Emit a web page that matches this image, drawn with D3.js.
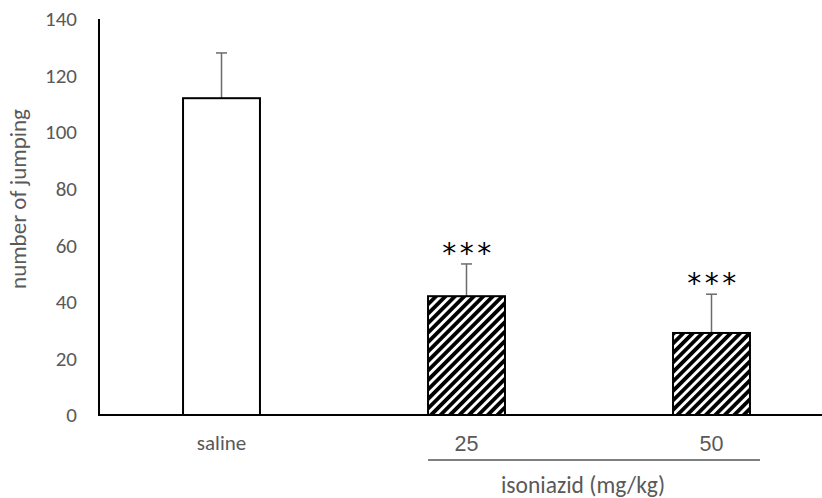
<!DOCTYPE html>
<html>
<head>
<meta charset="utf-8">
<script src="https://cdn.jsdelivr.net/npm/d3@7"></script>
<style>
  body { margin: 0; background: #fff; }
  svg { display: block; }
</style>
</head>
<body>
<svg width="822" height="498"></svg>
<script>
// data
var categories = ["saline", "25", "50"];
var means = [112, 42, 29];
var errors = [16, 11.4, 13.7];
var stars = ["", "***", "***"];
var yTicks = [0, 20, 40, 60, 80, 100, 120, 140];

var svg = d3.select("svg");
var plotLeft = 99, plotBottom = 415, plotTop = 19;

var x = d3.scaleBand()
    .domain(categories)
    .range([plotLeft, 834])
    .paddingInner(0.686)
    .paddingOuter(0.343);

var y = d3.scaleLinear()
    .domain([0, 140])
    .range([plotBottom, plotTop]);

// hatch pattern
var defs = svg.append("defs");
var pat = defs.append("pattern")
    .attr("id", "hatch")
    .attr("patternUnits", "userSpaceOnUse")
    .attr("width", 6.7)
    .attr("height", 6.7)
    .attr("patternTransform", "rotate(45)");
pat.append("rect").attr("width", 6.7).attr("height", 6.7).attr("fill", "#fff");
pat.append("rect").attr("width", 3.8).attr("height", 6.7).attr("fill", "#000");

// y axis tick labels
var yAxis = d3.axisLeft(y).tickValues(yTicks).tickSize(0).tickPadding(22);
var gy = svg.append("g")
    .attr("transform", "translate(" + plotLeft + ",0)")
    .call(yAxis);
gy.select(".domain").remove();
gy.selectAll("text")
    .attr("fill", "#595959")
    .style("font-family", "Carlito, Lato, sans-serif")
    .style("font-size", "21px");

// error bars (upper only)
var eb = svg.append("g").selectAll("g")
    .data(categories)
    .enter().append("g");
eb.append("line")
    .attr("x1", function (d) { return x(d) + x.bandwidth() / 2 })
    .attr("x2", function (d) { return x(d) + x.bandwidth() / 2 })
    .attr("y1", function (d, i) { return y(means[i]) })
    .attr("y2", function (d, i) { return y(means[i] + errors[i]) })
    .attr("stroke", "#6b6b6b")
    .attr("stroke-width", 1.5);
eb.append("line")
    .attr("x1", function (d) { return x(d) + x.bandwidth() / 2 - 5.5 })
    .attr("x2", function (d) { return x(d) + x.bandwidth() / 2 + 5.5 })
    .attr("y1", function (d, i) { return y(means[i] + errors[i]) })
    .attr("y2", function (d, i) { return y(means[i] + errors[i]) })
    .attr("stroke", "#6b6b6b")
    .attr("stroke-width", 1.5);

// bars
svg.append("g").selectAll("rect")
    .data(categories)
    .enter().append("rect")
    .attr("x", function (d) { return x(d) })
    .attr("y", function (d, i) { return y(means[i]) })
    .attr("width", x.bandwidth())
    .attr("height", function (d, i) { return plotBottom - y(means[i]) })
    .attr("fill", function (d, i) { return i == 0 ? "#fff" : "url(#hatch)" })
    .attr("stroke", "#000")
    .attr("stroke-width", 2);

// significance stars
svg.append("g").selectAll("text")
    .data(categories)
    .enter().append("text")
    .attr("x", function (d) { return x(d) + x.bandwidth() / 2 + 2 })
    .attr("y", function (d, i) { return y(means[i] + errors[i]) - 1 })
    .attr("text-anchor", "middle")
    .style("font-family", "'DejaVu Sans', sans-serif")
    .style("font-size", "28px")
    .style("letter-spacing", "3.5px")
    .attr("fill", "#000")
    .text(function (d, i) { return stars[i] });

// axis lines
svg.append("line")
    .attr("x1", plotLeft).attr("x2", plotLeft)
    .attr("y1", plotTop).attr("y2", plotBottom)
    .attr("stroke", "#000").attr("stroke-width", 2);
svg.append("line")
    .attr("x1", plotLeft - 1).attr("x2", 822)
    .attr("y1", plotBottom).attr("y2", plotBottom)
    .attr("stroke", "#000").attr("stroke-width", 2);

// category labels
svg.append("g").selectAll("text")
    .data(categories)
    .enter().append("text")
    .attr("x", function (d) { return x(d) + x.bandwidth() / 2 })
    .attr("y", 443)
    .attr("dy", ".35em")
    .attr("text-anchor", "middle")
    .attr("fill", "#595959")
    .style("font-family", function (d, i) { return i == 0 ? "Carlito, Lato, sans-serif" : "'Liberation Sans', Arial, sans-serif" })
    .style("font-size", function (d, i) { return i == 0 ? "21px" : "21.5px" })
    .text(function (d) { return d });

// isoniazid group line and label
svg.append("line")
    .attr("x1", x("25")).attr("x2", 760)
    .attr("y1", 460).attr("y2", 460)
    .attr("stroke", "#000").attr("stroke-width", 1);
svg.append("text")
    .attr("x", 583)
    .attr("y", 485)
    .attr("dy", ".35em")
    .attr("text-anchor", "middle")
    .attr("fill", "#595959")
    .style("font-family", "Carlito, Lato, sans-serif")
    .style("font-size", "23.5px")
    .text("isoniazid (mg/kg)");

// y title
svg.append("text")
    .attr("transform", "translate(18,199) rotate(-90)")
    .attr("dy", ".35em")
    .attr("text-anchor", "middle")
    .attr("fill", "#595959")
    .style("font-family", "Carlito, Lato, sans-serif")
    .style("font-size", "23px")
    .text("number of jumping");
</script>
</body>
</html>
